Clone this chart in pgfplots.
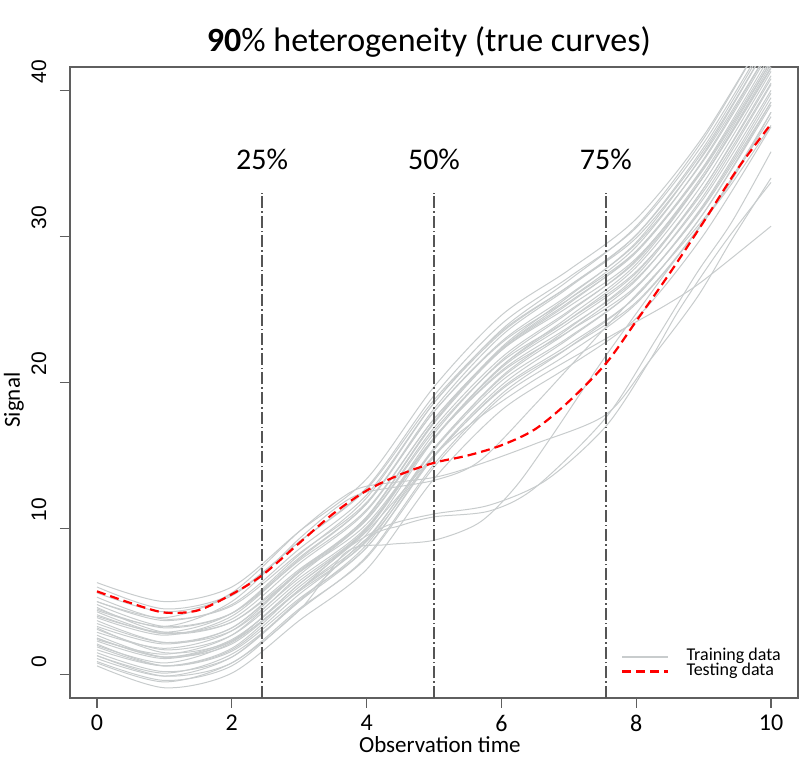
\documentclass[border=0pt]{standalone}
\usepackage{pgfplots}
\usepackage{pgfplotstable}
\pgfplotsset{compat=1.18}
\usepackage{fontspec}
\setmainfont{Carlito}
\newfontfamily\arialfont{Liberation Sans}

\definecolor{trainc}{RGB}{200,204,205}
\definecolor{vlinec}{RGB}{85,85,85}
\definecolor{framec}{RGB}{95,95,95}

% training curves: one column per subject, sampled at integer times
\pgfplotstableread{
x  c1   c2   c3   c4   c5   c6   c7   c8   c9   c10  c11  c12  c13  c14  c15  c16  c17  c18  c19  c20  c21  c22  c23  c24  c25  c26  c27  c28  c29  c30
0  6.3  6.0  5.6  5.3  5.0  4.8  4.5  4.3  4.1  3.9  3.7  3.5  3.3  3.1  2.9  2.7  2.5  2.3  2.1  1.9  1.7  1.5  1.3  1.1  0.9  0.6  4.0  3.2  4.6  2.4
1  5.0  4.5  4.3  3.8  3.7  3.3  3.2  2.8  2.8  2.7  2.2  2.2  2.1  1.7  1.8  1.2  1.2  1.1  0.6  0.6  0.6  0.2 -0.1 -0.1 -0.4 -0.9  2.9  1.5  2.9  1.4
2  6.0  5.5  5.4  4.7  4.8  4.2  4.2  3.6  3.8  4.0  3.0  3.2  3.2  2.7  3.0  2.1  2.3  2.3  1.6  1.7  1.8  1.2  0.8  1.2  0.6  0.1  4.2  2.3  3.6  2.7
3  9.8  9.1  9.1  8.3  8.6  7.8  8.0  7.2  7.6  7.9  6.6  7.0  7.1  6.4  7.0  5.8  6.2  6.2  5.2  5.5  5.8  5.0  4.5  5.1  4.4  3.7  8.2  5.7  7.0  6.8
4  13.4 12.7 12.8 11.8 12.3 11.3 11.7 10.6 11.2 11.7 10.1 10.6 10.8 10.0 10.8 9.3  9.9  10.0 8.7  9.2  9.6  8.7  8.0  8.9  8.1  7.2  12.1 9.1  10.3 10.7
5  19.7 18.8 19.1 18.0 18.6 17.5 18.0 16.7 17.5 18.2 16.2 16.9 17.2 16.2 17.3 15.4 16.2 16.5 14.9 15.5 16.1 15.0 14.2 15.4 14.4 13.4 18.6 15.0 16.2 17.3
6  24.6 23.5 24.0 22.7 23.4 22.2 22.8 21.4 22.3 23.2 20.8 21.7 22.2 21.0 22.3 20.1 21.1 21.5 19.6 20.3 21.1 19.8 19.0 20.4 19.2 18.1 23.6 19.5 20.7 22.4
7  27.7 26.6 27.2 25.7 26.6 25.2 26.0 24.3 25.5 26.5 23.8 24.9 25.4 24.1 25.7 23.1 24.3 24.8 22.6 23.5 24.5 23.0 22.0 23.7 22.4 21.1 27.0 22.4 23.5 25.9
8  31.2 29.9 30.6 29.0 30.1 28.5 29.5 27.6 28.9 30.1 27.1 28.3 29.0 27.5 29.3 26.5 27.9 28.4 25.9 27.0 28.1 26.5 25.4 27.3 25.9 24.4 30.7 25.5 26.6 29.6
9  36.9 35.6 36.4 34.6 35.9 34.1 35.2 33.1 34.7 36.1 32.6 34.1 34.8 33.3 35.3 32.1 33.7 34.3 31.6 32.8 34.1 32.2 31.0 33.3 31.6 30.1 36.7 31.0 32.0 35.7
10 44.5 43.0 44.0 42.0 43.5 41.5 42.8 40.5 42.2 43.8 40.0 41.6 42.5 40.8 43.0 39.5 41.3 42.0 39.0 40.4 41.8 39.8 38.5 41.0 39.2 37.5 44.5 38.2 39.2 43.5
}\maincurves

\pgfplotsset{
  train/.style={trainc, line width=0.5pt, smooth, forget plot},
  testing/.style={red, line width=1.1pt, dash pattern=on 4.5pt off 2.5pt},
}

\begin{document}
\begin{tikzpicture}
\path[use as bounding box] (0,0) rectangle (405pt,379pt);
\begin{axis}[
  at={(35pt,30pt)}, anchor=south west,
  scale only axis, width=364pt, height=315.5pt,
  xmin=-0.4, xmax=10.4, ymin=-1.6, ymax=41.6,
  xtick={0,2,...,10}, ytick={0,10,...,40},
  xtick pos=left, ytick pos=left,
  tick align=outside, major tick length=5pt,
  axis line style={framec, line width=0.6pt},
  every tick/.style={framec, line width=0.6pt},
  /pgf/number format/assume math mode=true,
  xticklabel style={font=\fontsize{12}{12}\selectfont, anchor=north},
  yticklabel style={font=\arialfont\fontsize{10.5}{10.5}\selectfont, rotate=90, anchor=south west},
  yticklabel shift=3.3pt,
  title={\textbf{90}\% heterogeneity (true curves)},
  title style={at={(0.493,1)}, anchor=base, yshift=1.5pt, font=\fontsize{17}{17}\selectfont},
  xlabel={Observation time},
  ylabel={Signal},
  every axis x label/.style={at={(axis description cs:0.508,0)}, anchor=center, yshift=-23.5pt, font=\fontsize{11.5}{11.5}\selectfont},
  every axis y label/.style={at={(axis description cs:-0.077,0.472)}, anchor=center, rotate=90, font=\fontsize{11.5}{11.5}\selectfont},
  legend style={at={(axis cs:7.78,0.72)}, anchor=west, draw=none, fill=none,
    inner sep=0pt, outer sep=0pt, column sep=8.5pt,
    font=\fontsize{9}{9}\selectfont,
    nodes={inner sep=0pt, text height=5.8pt, text depth=1.7pt}},
  legend cell align=left,
  legend image code/.code={\draw[#1] (0pt,0pt) -- (23pt,0pt);},
]
% bundle of training subjects
\pgfplotsinvokeforeach{1,...,30}{
  \addplot[train] table[x=x, y=c#1] {\maincurves};
}
% heterogeneous subjects that leave the bundle
\addplot[train] coordinates {(0,2.5) (1,1.2) (2,2.4) (3,6.0) (4,9.8) (5,15.0) (5.67,17.6) (6.5,20.2) (7.55,23.0) (8.44,25.3) (9,27.0) (10,30.7)};
\addplot[train] coordinates {(0,5.0) (1,3.9) (2,5.6) (3,9.8) (3.6,12.0) (4,12.9) (5,13.5) (5.67,14.4) (6.5,15.8) (7.55,17.8) (8.2,21.5) (8.9,25.8) (9.42,29.8) (10,34.0)};
\addplot[train] coordinates {(0,4.4) (1,3.3) (2,5.0) (3,9.3) (3.6,11.6) (4,12.5) (5,13.3) (5.67,14.6) (6.5,18.5) (7.55,23.8) (8.5,28.5) (9.3,33.0) (10,38.5)};
\addplot[train] coordinates {(0,2.0) (1,0.8) (2,2.2) (3,5.8) (3.7,8.6) (4.3,10.2) (5,11.0) (5.82,11.6) (6.66,13.3) (7.55,17.0) (8.2,21.5) (8.64,25.0) (9.3,29.5) (10,33.7)};
\addplot[train] coordinates {(0,1.3) (1,0.1) (2,1.4) (3,5.0) (4,9.3) (4.5,10.2) (5,10.8) (5.82,11.2) (6.5,12.8) (7.55,17.6) (8.3,23.0) (8.9,27.5) (9.42,31.0) (10,35.8)};
\addplot[train] coordinates {(0,0.8) (1,-0.5) (2,0.8) (3,4.4) (3.7,8.4) (4.3,8.9) (5,9.2) (5.67,10.4) (6.2,12.8) (6.7,16.0) (7.5,21.5) (8.2,26.0) (8.83,30.0) (9.4,33.5) (10,37.6)};

% quantile markers of the observation window
\addplot[vlinec, line width=0.7pt, dash pattern=on 6pt off 1.5pt on 0.8pt off 1.5pt, forget plot] coordinates {(2.45,-1.6) (2.45,33)};
\addplot[vlinec, line width=0.7pt, dash pattern=on 6pt off 1.5pt on 0.8pt off 1.5pt, forget plot] coordinates {(5.0,-1.6) (5.0,33)};
\addplot[vlinec, line width=0.7pt, dash pattern=on 6pt off 1.5pt on 0.8pt off 1.5pt, forget plot] coordinates {(7.55,-1.6) (7.55,33)};
\node[font=\fontsize{15}{15}\selectfont] at (axis cs:2.45,35.3) {25\%};
\node[font=\fontsize{15}{15}\selectfont] at (axis cs:5.0,35.3) {50\%};
\node[font=\fontsize{15}{15}\selectfont] at (axis cs:7.55,35.3) {75\%};

% testing subject
\addplot[testing, smooth, forget plot] coordinates {
  (0,5.7) (0.5,4.9) (1.0,4.25) (1.5,4.4) (2.0,5.5) (2.45,6.8) (3.0,9.0) (3.5,11.0)
  (4.0,12.6) (4.5,13.7) (5.0,14.5) (5.5,15.0) (6.0,15.7) (6.5,16.8) (7.0,18.7)
  (7.55,21.3) (8.0,24.2) (8.5,27.5) (9.0,31.0) (9.5,34.6) (10.0,37.7)};

\addlegendimage{trainc, line width=1pt}
\addlegendentry{Training data}
\addlegendimage{testing}
\addlegendentry{Testing data}
\end{axis}
\end{tikzpicture}
\end{document}
